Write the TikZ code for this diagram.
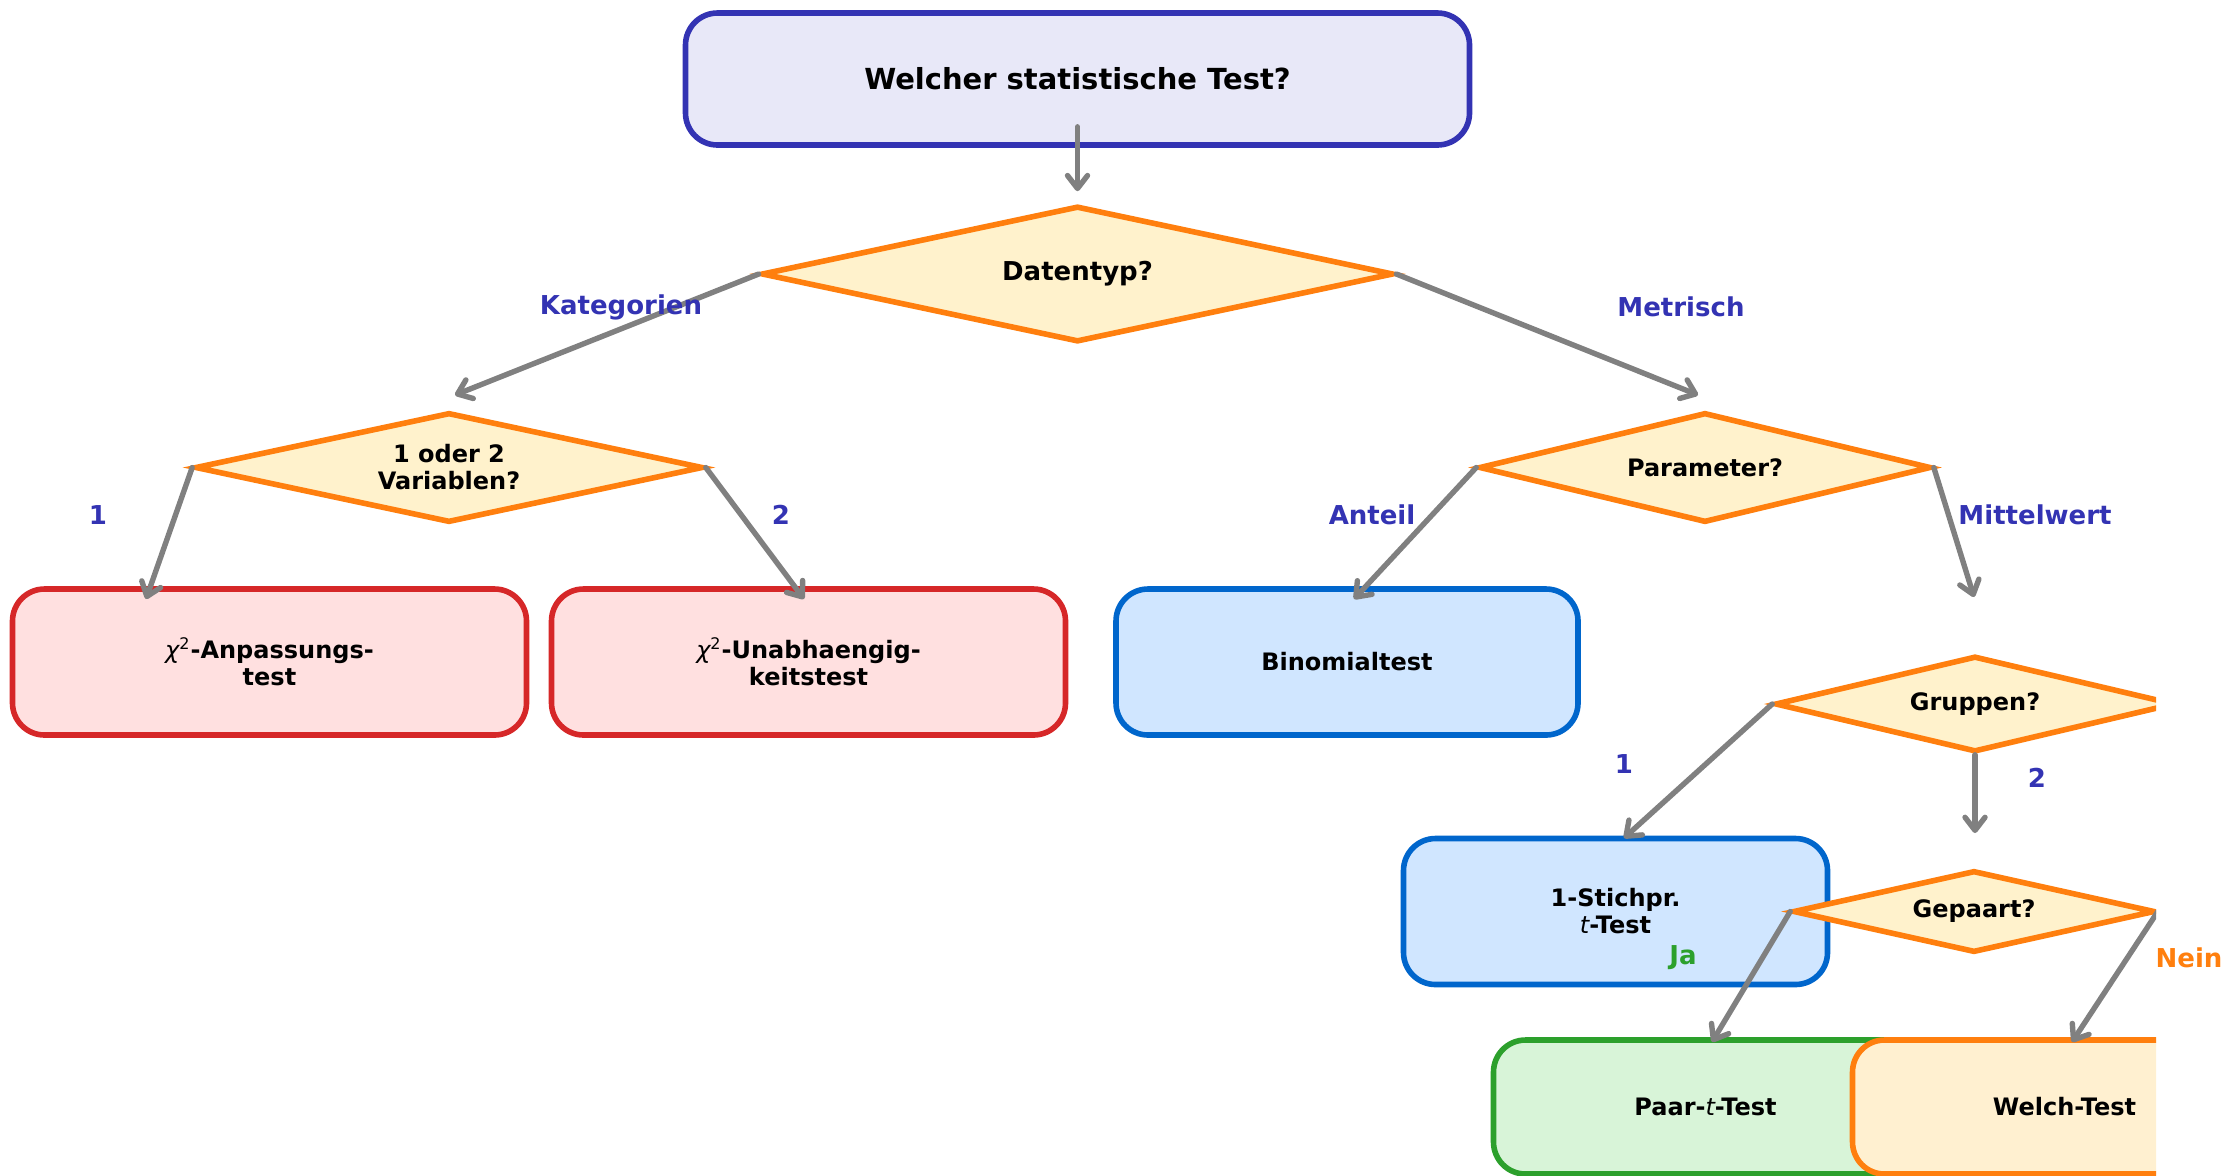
\documentclass[tikz,border=0pt]{standalone}
\usepackage{fontspec}
\setmainfont{DejaVu Sans}
\usetikzlibrary{shapes.geometric,arrows.meta}

\definecolor{titlefill}{HTML}{E8E8F8}
\definecolor{titleline}{HTML}{3333B3}
\definecolor{decfill}{HTML}{FFF2CC}
\definecolor{decline}{HTML}{FF7F0E}
\definecolor{redfill}{HTML}{FFE0E0}
\definecolor{redline}{HTML}{D62728}
\definecolor{bluefill}{HTML}{D0E6FF}
\definecolor{blueline}{HTML}{0066CC}
\definecolor{greenfill}{HTML}{D8F4D8}
\definecolor{greenline}{HTML}{2CA02C}
\definecolor{orangefill}{HTML}{FFF0D0}
\definecolor{arrowgray}{HTML}{808080}
\definecolor{lblblue}{HTML}{3333B3}

\newcommand{\varit}[1]{{\mdseries\itshape #1}}

\begin{document}
\begin{tikzpicture}[x=50pt,y=50pt,
  testbox/.style={draw, rounded corners=16pt, line width=2.8pt, minimum width=257pt,
    minimum height=73pt, align=center, font=\fontsize{12}{13.5}\selectfont\bfseries},
  question/.style={draw=decline, fill=decfill, diamond, aspect=4.6, line width=2.8pt,
    inner sep=0pt, align=center, font=\fontsize{12}{13.5}\selectfont\bfseries},
  flow/.style={draw=arrowgray, line width=2.7pt, line cap=round,
    -{Straight Barb[length=6.5pt,width=10pt,round]}},
  branch/.style={text=lblblue, font=\fontsize{13}{15}\selectfont\bfseries}]
\useasboundingbox (0,0) rectangle (22.30,-11.75);

\begin{scope}
\clip (0,0) rectangle (21.56,-11.75);
% start
\node [draw=titleline, fill=titlefill, rounded corners=16pt, line width=2.8pt,
  minimum width=392pt, minimum height=66pt, font=\fontsize{14.5}{17}\selectfont\bfseries]
  (title) at (10.775,-0.79) {Welcher statistische Test?};

% questions
\node [question, minimum width=316pt, minimum height=68pt, font=\fontsize{13}{15}\selectfont\bfseries]
  (datentyp) at (10.775,-2.74) {Datentyp?};
\node [question, minimum width=254pt, minimum height=55pt] (vars) at (4.49,-4.675) {1 oder 2\\Variablen?};
\node [question, minimum width=226pt, minimum height=55pt] (param) at (17.05,-4.675) {Parameter?};
\node [question, minimum width=200pt, minimum height=48pt] (gruppen) at (19.75,-7.04) {Gruppen?};

% tests
\node [testbox, draw=redline, fill=redfill] (anp) at (2.695,-6.62)
  {\varit{χ}\textsuperscript{\mdseries 2}-Anpassungs-\\test};
\node [testbox, draw=redline, fill=redfill] (unab) at (8.085,-6.62)
  {\varit{χ}\textsuperscript{\mdseries 2}-Unabhaengig-\\keitstest};
\node [testbox, draw=blueline, fill=bluefill, minimum width=231pt] (binom) at (13.47,-6.62) {Binomialtest};
\node [testbox, draw=blueline, fill=bluefill, minimum width=212pt] (stich) at (16.155,-9.115)
  {1-Stichpr.\\\varit{t}-Test};
\node [question, minimum width=181pt, minimum height=41pt] (gepaart) at (19.74,-9.115) {Gepaart?};
\node [testbox, draw=greenline, fill=greenfill, minimum width=212pt, minimum height=67pt]
  (paar) at (17.055,-11.07) {Paar-\varit{t}-Test};
\node [testbox, draw=decline, fill=orangefill, minimum width=212pt, minimum height=67pt]
  (welch) at (20.645,-11.07) {Welch-Test};

% arrow ends
\coordinate (e-kat) at (4.55,-3.95);
\coordinate (e-met) at (16.98,-3.95);
\coordinate (e-anp) at (1.46,-5.99);
\coordinate (e-unab) at (8.04,-5.99);
\coordinate (e-binom) at (13.54,-5.99);
\coordinate (e-mw) at (19.74,-5.97);
\coordinate (e-stich) at (16.24,-8.38);
\coordinate (e-gep) at (19.75,-8.33);
\coordinate (e-paar) at (17.12,-10.42);
\coordinate (e-welch) at (20.72,-10.42);

% arrows
\draw [flow, shorten <=-10.5pt, shorten >=6pt] (title.south) -- (datentyp.north);
\draw [flow] (datentyp.west) -- (e-kat);
\draw [flow] (datentyp.east) -- (e-met);
\draw [flow] (vars.west) -- (e-anp);
\draw [flow] (vars.east) -- (e-unab);
\draw [flow] (param.west) -- (e-binom);
\draw [flow] (param.east) -- (e-mw);
\draw [flow] (gruppen.west) -- (e-stich);
\draw [flow] (gruppen.south) -- (e-gep);
\draw [flow] (gepaart.west) -- (e-paar);
\draw [flow] (gepaart.east) -- (e-welch);
\end{scope}

% labels
\node [branch] (l-kat) at (6.21,-3.07) {Kategorien};
\node [branch] (l-met) at (16.81,-3.07) {Metrisch};
\node [branch] (l-one) at (0.98,-5.15) {1};
\node [branch] (l-two) at (7.81,-5.15) {2};
\node [branch] (l-ant) at (13.72,-5.15) {Anteil};
\node [branch] (l-mw) at (20.35,-5.15) {Mittelwert};
\node [branch] (l-g1) at (16.24,-7.64) {1};
\node [branch] (l-g2) at (20.37,-7.78) {2};
\node [branch, text=greenline] (l-ja) at (16.83,-9.58) {Ja};
\node [branch, text=decline] (l-nein) at (21.89,-9.58) {Nein};

\end{tikzpicture}
\end{document}
